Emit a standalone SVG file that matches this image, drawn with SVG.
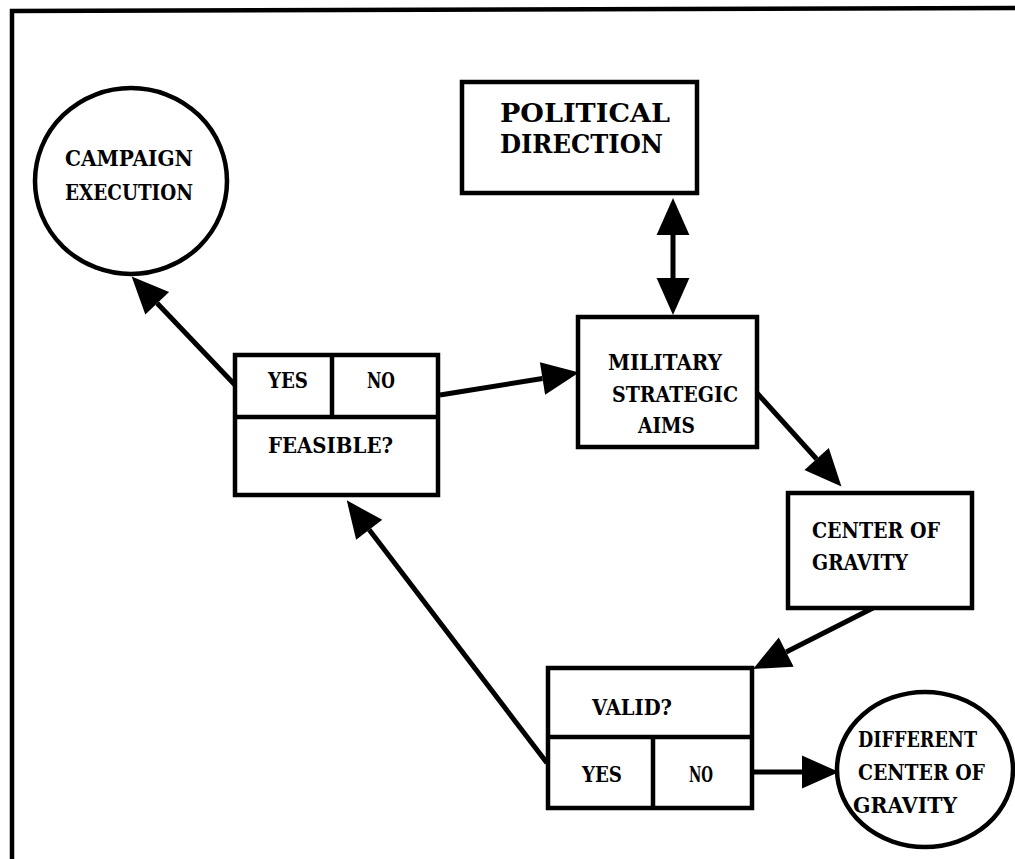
<svg xmlns="http://www.w3.org/2000/svg" width="1015" height="859" viewBox="0 0 1015 859">
<style>
.shape{fill:#fff;stroke:#000;stroke-width:4.5}
.div{stroke:#000;stroke-width:4.5;fill:none}
.conn{stroke:#000;stroke-width:5;fill:none}
.t{font-family:"DejaVu Serif","Liberation Serif",serif;font-size:23px;font-weight:bold;fill:#000}
.big{font-size:26px}
</style>
<defs>
<marker id="ah" markerUnits="userSpaceOnUse" markerWidth="40" markerHeight="36" viewBox="0 -17 37 34" refX="0" refY="0" orient="auto-start-reverse">
<path d="M0,-15.5 L35,0 L0,15.5 Z" fill="#000"/>
</marker>
</defs>
<rect width="1015" height="859" fill="#fff"/>
<polyline points="12,859 12,11 1015,8" class="div"/>

<g id="connectors">
<line class="conn" x1="673" y1="235" x2="673" y2="278" marker-start="url(#ah)" marker-end="url(#ah)"/>
<line class="conn" x1="440" y1="395" x2="542.5" y2="378.5" marker-end="url(#ah)"/>
<line class="conn" x1="235" y1="385" x2="157.2" y2="303.3" marker-end="url(#ah)"/>
<line class="conn" x1="757" y1="393" x2="816.6" y2="459" marker-end="url(#ah)"/>
<line class="conn" x1="873" y1="608" x2="786.2" y2="652.1" marker-end="url(#ah)"/>
<line class="conn" x1="752" y1="772" x2="802" y2="772" marker-end="url(#ah)"/>
<line class="conn" x1="547" y1="763" x2="369.2" y2="529.8" marker-end="url(#ah)"/>
</g>

<g id="campaign-execution">
<ellipse class="shape" cx="131" cy="181" rx="96" ry="93"/>
<text class="t" x="65" y="166" textLength="128" lengthAdjust="spacingAndGlyphs">CAMPAIGN</text>
<text class="t" x="65" y="200" textLength="128" lengthAdjust="spacingAndGlyphs">EXECUTION</text>
</g>

<g id="political-direction">
<rect class="shape" x="462" y="82" width="235" height="111"/>
<text class="t big" x="500" y="122" textLength="170" lengthAdjust="spacingAndGlyphs">POLITICAL</text>
<text class="t big" x="500" y="153" textLength="163" lengthAdjust="spacingAndGlyphs">DIRECTION</text>
</g>

<g id="military-strategic-aims">
<rect class="shape" x="578" y="317" width="179" height="130"/>
<text class="t" x="608" y="370" textLength="114" lengthAdjust="spacingAndGlyphs">MILITARY</text>
<text class="t" x="612" y="402" textLength="126" lengthAdjust="spacingAndGlyphs">STRATEGIC</text>
<text class="t" x="638" y="433" textLength="57" lengthAdjust="spacingAndGlyphs">AIMS</text>
</g>

<g id="feasible">
<rect class="shape" x="235" y="355" width="203" height="140"/>
<line class="div" x1="235" y1="417" x2="438" y2="417"/>
<line class="div" x1="332" y1="355" x2="332" y2="417"/>
<text class="t" x="268" y="388" textLength="40" lengthAdjust="spacingAndGlyphs">YES</text>
<text class="t" x="367" y="388" textLength="28" lengthAdjust="spacingAndGlyphs">NO</text>
<text class="t" x="268" y="453" textLength="125" lengthAdjust="spacingAndGlyphs">FEASIBLE?</text>
</g>

<g id="center-of-gravity">
<rect class="shape" x="788" y="493" width="184" height="115"/>
<text class="t" x="812" y="538" textLength="128" lengthAdjust="spacingAndGlyphs">CENTER OF</text>
<text class="t" x="812" y="570" textLength="96" lengthAdjust="spacingAndGlyphs">GRAVITY</text>
</g>

<g id="valid">
<rect class="shape" x="548" y="668" width="204" height="140"/>
<line class="div" x1="548" y1="737" x2="752" y2="737"/>
<line class="div" x1="653" y1="737" x2="653" y2="808"/>
<text class="t" x="592" y="715" textLength="80" lengthAdjust="spacingAndGlyphs">VALID?</text>
<text class="t" x="582" y="782" textLength="40" lengthAdjust="spacingAndGlyphs">YES</text>
<text class="t" x="689" y="782" textLength="24" lengthAdjust="spacingAndGlyphs">NO</text>
</g>

<g id="different-center-of-gravity">
<ellipse class="shape" cx="925" cy="769.5" rx="88" ry="77.5"/>
<text class="t" x="858" y="747" textLength="119" lengthAdjust="spacingAndGlyphs">DIFFERENT</text>
<text class="t" x="858" y="780" textLength="127" lengthAdjust="spacingAndGlyphs">CENTER OF</text>
<text class="t" x="853" y="813" textLength="104" lengthAdjust="spacingAndGlyphs">GRAVITY</text>
</g>
</svg>
